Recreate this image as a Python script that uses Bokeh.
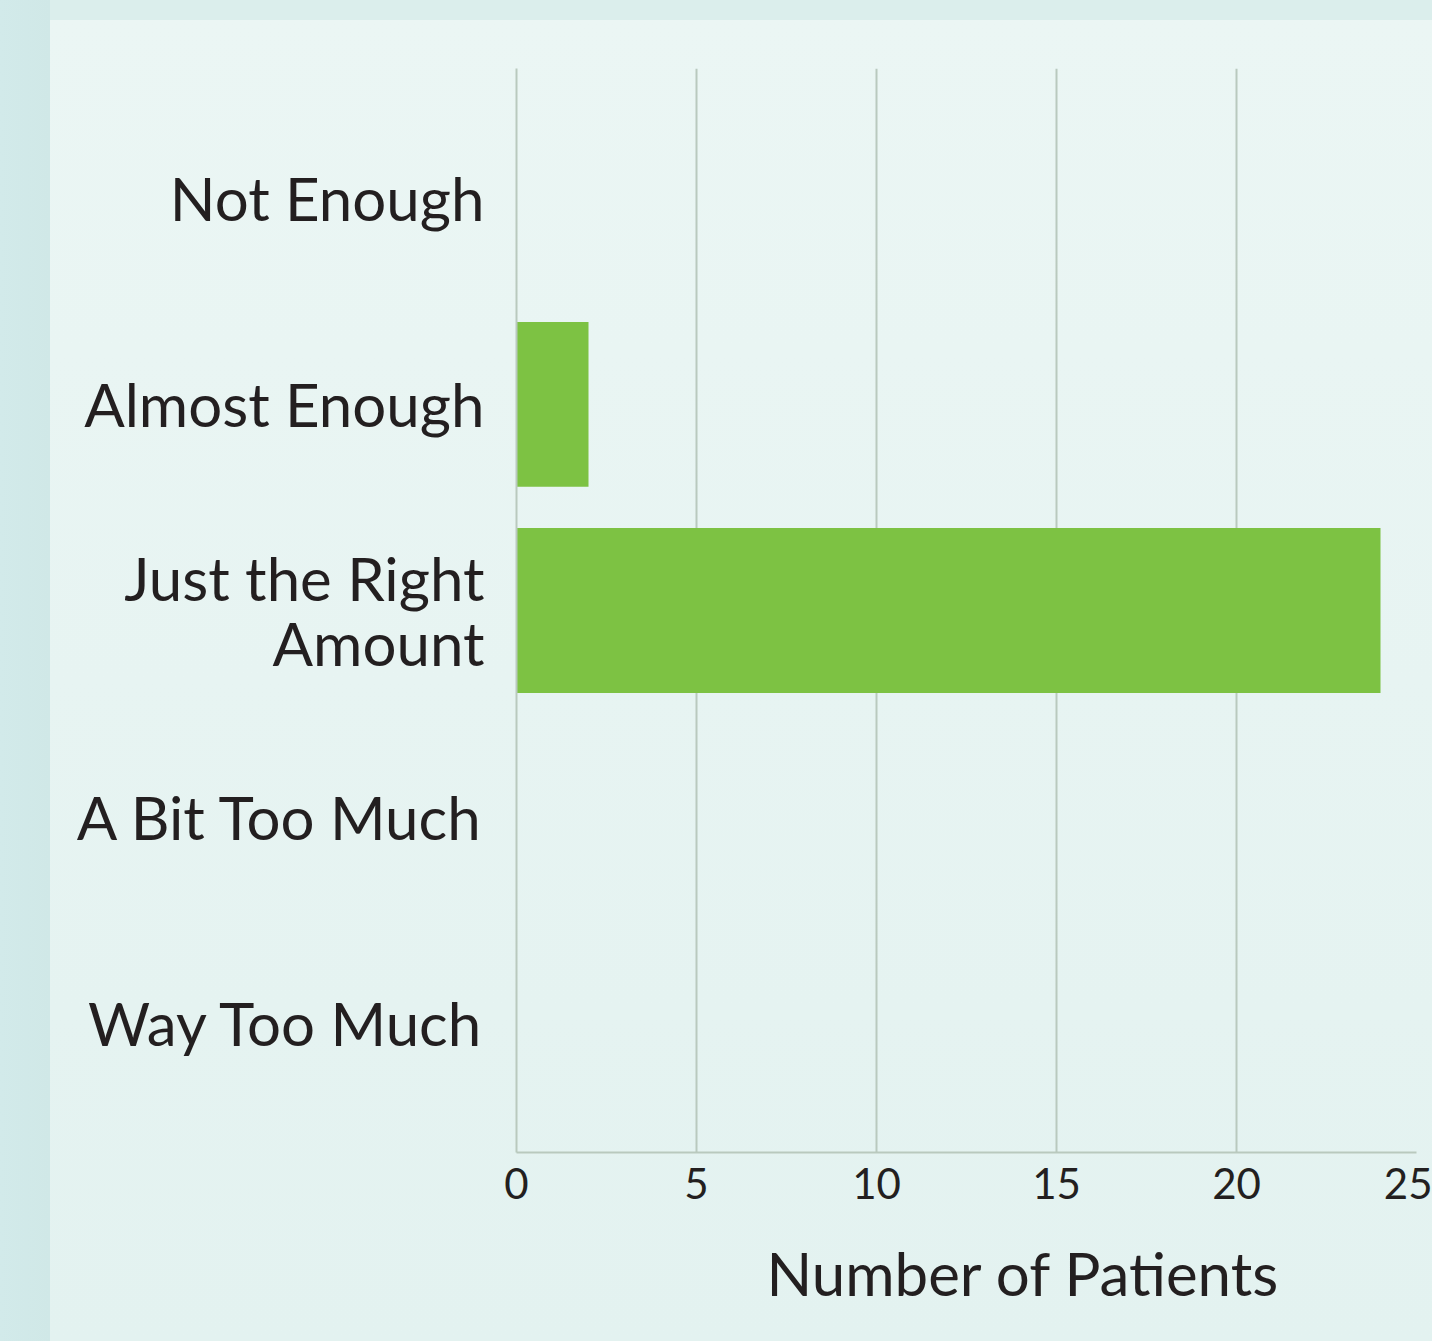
from bokeh.plotting import figure
from bokeh.models import FactorRange, Range1d, Title, ColumnDataSource, FixedTicker
from bokeh.embed import file_html
from bokeh.resources import INLINE

categories = ["Not Enough", "Almost Enough", "Just the Right\nAmount", "A Bit Too Much", "Way Too Much"]
patients = [0, 2, 24, 0, 0]
x_ticks = [0, 5, 10, 15, 20, 25]
x_title = "Number of Patients"

TEXT = "#231f20"
GRID = "#b9c9be"
BAR = "#7dc243"
FONT = "Lato"

source = ColumnDataSource(data=dict(cat=categories, val=patients))

y_range = FactorRange(factors=list(reversed(categories)), range_padding=0.13,
                      range_padding_units="absolute")

p = figure(width=1432, height=1341, y_range=y_range, x_range=Range1d(0, 25),
           output_backend="svg", toolbar_location=None,
           min_border_left=516, min_border_right=16, min_border_top=68, min_border_bottom=189)

p.hbar(y="cat", right="val", left=0, height=0.8, source=source,
       fill_color=BAR, line_color=None)

p.background_fill_alpha = 0
p.border_fill_alpha = 0
p.outline_line_color = None
p.styles = {"background": "linear-gradient(to right, #d2eaea 0px, #d0e8e7 50px, transparent 50px), "
                          "linear-gradient(to bottom, #dbeeec 0px, #dbeeec 20px, #ebf6f4 20px, #e3f2f0 100%)"}

p.ygrid.grid_line_color = None
p.xgrid.grid_line_color = GRID
p.xgrid.grid_line_width = 2
p.xgrid.ticker = FixedTicker(ticks=x_ticks)

p.xaxis.ticker = FixedTicker(ticks=x_ticks)
p.xaxis.axis_line_color = GRID
p.xaxis.axis_line_width = 2
p.xaxis.major_tick_line_color = None
p.xaxis.minor_tick_line_color = None
p.xaxis.major_tick_out = 0
p.xaxis.major_tick_in = 0
p.xaxis.major_label_standoff = 15
p.xaxis.major_label_text_font = FONT
p.xaxis.major_label_text_font_size = "42px"
p.xaxis.major_label_text_color = TEXT

p.yaxis.axis_line_color = GRID
p.yaxis.axis_line_width = 2
p.yaxis.major_tick_line_color = None
p.yaxis.minor_tick_line_color = None
p.yaxis.major_tick_out = 0
p.yaxis.major_tick_in = 0
p.yaxis.major_label_standoff = 32
p.yaxis.major_label_text_font = FONT
p.yaxis.major_label_text_font_size = "60px"
p.yaxis.major_label_text_color = TEXT
p.yaxis.major_label_text_line_height = 0.9

t = Title(text=x_title, align="right", offset=136, text_font=FONT, text_font_size="60px",
          text_color=TEXT, text_font_style="normal", standoff=66)
p.add_layout(t, "below")

open("out.html", "w").write(file_html(p, INLINE))
